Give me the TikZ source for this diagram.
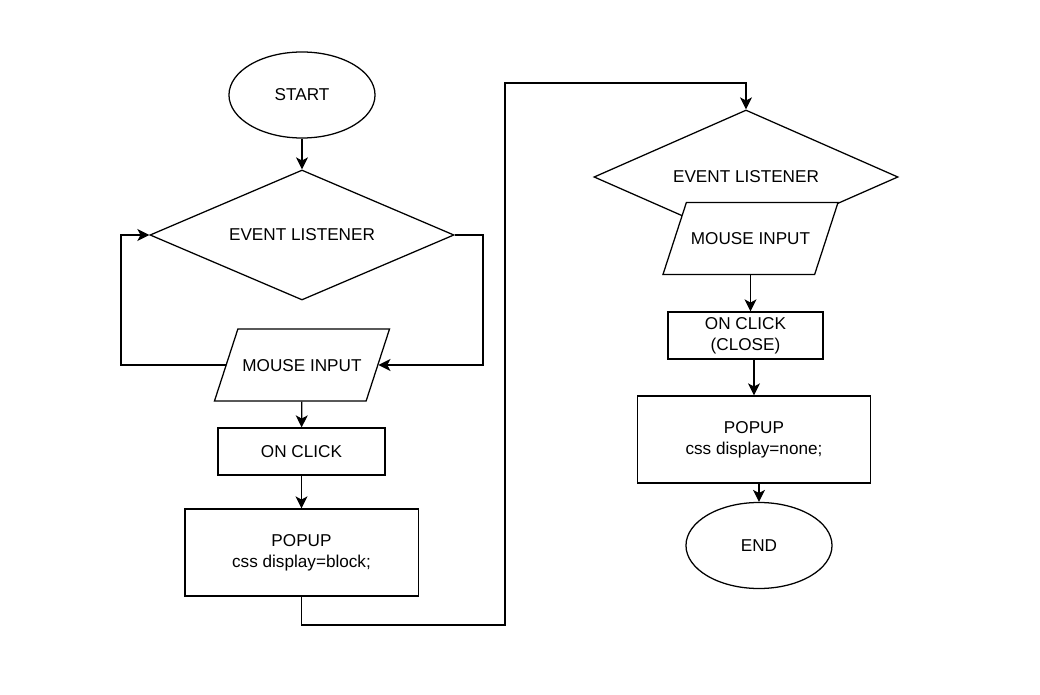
\documentclass[tikz,border=0pt]{standalone}
\usepackage{fontspec}
\setmainfont{Liberation Sans}
\usetikzlibrary{arrows.meta, shapes.geometric}
\tikzset{
  every picture/.style={line width=0.9pt, x=0.025cm, y=-0.025cm},
  every node/.style={font=\fontsize{12.2}{14.8}\selectfont, align=center, inner sep=0pt},
  terminal/.style={draw, ellipse, fill=white, minimum width=3.65cm, minimum height=2.15cm},
  decision/.style={draw, diamond, shape aspect=2.35, fill=white, minimum width=7.6cm, minimum height=#1},
  decision/.default=3.25cm,
  inputbox/.style={draw, trapezium, trapezium left angle=72, trapezium right angle=108,
    trapezium stretches body=true, fill=white, minimum width=4.375cm,
    text height=1.05cm, text depth=0.75cm},
  box/.style={draw, rectangle, fill=white, minimum width=#1, minimum height=1.175cm},
  box/.default=4.175cm,
  bigbox/.style={draw, rectangle, fill=white, minimum width=5.83cm, minimum height=2.175cm},
  arrow/.style={-{Stealth[length=3mm, width=3mm, inset=0.8mm]}},
}

\begin{document}
\begin{tikzpicture}
  \useasboundingbox (0,0) rectangle (1040,695);
  % open the popup
  \node[terminal] (start) at (302,95) {START};
  \node[decision] (ev1) at (302,235) {EVENT LISTENER};
  \node[inputbox] (mi1) at (302,365) {MOUSE INPUT};
  \node[box] (oc1) at (301.5,451.5) {ON CLICK};
  \node[bigbox] (pop1) at (301.5,552.5) {POPUP\\css display=block;};
  \draw[arrow] (start) -- (ev1);
  \coordinate (loopL) at (121,235);
  \coordinate (loopR) at (483,235);
  \draw[arrow] (mi1.west) -| (loopL) -- (ev1.west);
  \draw[arrow] (ev1.east) -- (loopR) |- (mi1.east);
  \draw[arrow] (mi1) -- (oc1);
  \draw[arrow] (oc1) -- (pop1);
  % close the popup
  \node[decision=3.35cm] (ev2) at (746,177) {EVENT LISTENER};
  \node[inputbox] (mi2) at (750.5,238.5) {MOUSE INPUT};
  \node[box=3.875cm] (oc2) at (745.5,335.5) {ON CLICK\\(CLOSE)};
  \node[bigbox] (pop2) at (754,439.5) {POPUP\\css display=none;};
  \node[terminal] (end) at (759,545.5) {END};
  \coordinate (lowR) at (505,625);
  \coordinate (topR) at (505,83);
  \draw[arrow] (pop1.south) |- (lowR) -- (topR) -| (ev2.north);
  \draw[arrow] (mi2.south) -- (mi2.south |- oc2.north);
  \draw[arrow] (pop2.north |- oc2.south) -- (pop2.north);
  \draw[arrow] (end.north |- pop2.south) -- (end.north);
\end{tikzpicture}
\end{document}
